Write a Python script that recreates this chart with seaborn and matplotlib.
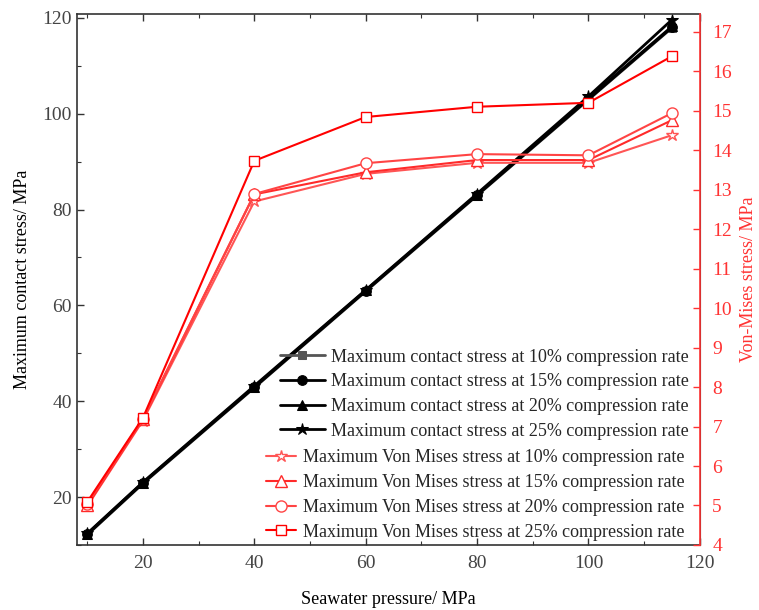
import matplotlib
matplotlib.use("Agg")
import matplotlib.pyplot as plt
import seaborn as sns
import pandas as pd
from matplotlib.ticker import MultipleLocator

pressure = [10, 20, 40, 60, 80, 100, 115]

contact_10 = [12.1, 22.8, 42.8, 62.9, 82.9, 102.9, 117.9]
contact_15 = [12.2, 22.9, 42.9, 63.0, 83.0, 103.0, 118.0]
contact_20 = [12.3, 23.0, 43.0, 63.1, 83.1, 103.2, 118.2]
contact_25 = [12.4, 23.1, 43.2, 63.2, 83.3, 103.6, 119.6]

vm_10 = [4.98, 7.15, 12.70, 13.40, 13.68, 13.68, 14.38]
vm_15 = [5.00, 7.18, 12.88, 13.44, 13.75, 13.75, 14.76]
vm_20 = [5.05, 7.20, 12.89, 13.67, 13.90, 13.87, 14.94]
vm_25 = [5.09, 7.22, 13.73, 14.84, 15.10, 15.20, 16.38]

rates = ["10%", "15%", "20%", "25%"]
contact_series = [contact_10, contact_15, contact_20, contact_25]
vm_series = [vm_10, vm_15, vm_20, vm_25]

sns.set_style("ticks")
plt.rcParams['font.family'] = ['Liberation Serif', 'DejaVu Serif']

fig = plt.figure(figsize=(7.59, 6.10), dpi=100)
ax = fig.add_axes([0.101, 0.1066, 0.821, 0.8705])
ax2 = ax.twinx()

c_colors = ["#555555", "black", "black", "black"]
c_markers = ["s", "o", "^", "*"]
c_sizes = [6, 7, 7, 9]
for r, vals, col, mk, ms in zip(rates, contact_series, c_colors, c_markers, c_sizes):
    df = pd.DataFrame({"p": pressure, "v": vals})
    sns.lineplot(data=df, x="p", y="v", ax=ax, color=col, marker=mk,
                 markersize=ms, markeredgecolor=col, linewidth=2.0,
                 label=f"Maximum contact stress at {r} compression rate", legend=False)

v_colors = ["#ff5555", "#ff2a2a", "#ff4444", "#ff0000"]
v_markers = ["*", "^", "o", "s"]
v_sizes = [9, 8, 8, 7]
for r, vals, col, mk, ms in zip(rates, vm_series, v_colors, v_markers, v_sizes):
    df = pd.DataFrame({"p": pressure, "v": vals})
    sns.lineplot(data=df, x="p", y="v", ax=ax2, color=col, marker=mk,
                 markersize=ms, markerfacecolor="white", markeredgecolor=col,
                 markeredgewidth=1.0, linewidth=1.5,
                 label=f"Maximum Von Mises stress at {r} compression rate", legend=False)

ax.set_xlim(8.1, 120)
ax.set_ylim(10, 120.8)
ax2.set_ylim(4, 17.45)

ax.xaxis.set_major_locator(MultipleLocator(20))
ax.xaxis.set_minor_locator(MultipleLocator(10))
ax.yaxis.set_major_locator(MultipleLocator(20))
ax.yaxis.set_minor_locator(MultipleLocator(10))
ax2.yaxis.set_major_locator(MultipleLocator(1))

tick_gray = "#444444"
ax.tick_params(axis="both", which="major", direction="in", length=5, width=1,
               labelsize=14, labelcolor=tick_gray, top=True, color="#333333")
ax.tick_params(axis="x", which="major", pad=7)
ax.tick_params(axis="both", which="minor", direction="in", length=3, width=0.8,
               top=True, color="#333333")
ax.tick_params(axis="y", right=False, which="both")
red = "#ff3333"
ax2.tick_params(axis="y", which="major", direction="in", length=5, width=1,
                labelsize=14, labelcolor=red, color=red, pad=9)

for s in ["left", "bottom", "top"]:
    ax.spines[s].set_color("#333333")
    ax.spines[s].set_linewidth(1.2)
ax2.spines["right"].set_color(red)
ax2.spines["right"].set_linewidth(1.2)
ax2.spines["left"].set_visible(False)
ax2.spines["top"].set_visible(False)
ax2.spines["bottom"].set_visible(False)

ax.set_xlabel("Seawater pressure/ MPa", fontsize=13, color="black", labelpad=14)
ax.set_ylabel("Maximum contact stress/ MPa", fontsize=13, color="black", labelpad=8)
ax2.set_ylabel("Von-Mises stress/ MPa", fontsize=13, color=red, labelpad=6)

h1, l1 = ax.get_legend_handles_labels()
h2, l2 = ax2.get_legend_handles_labels()
leg1 = ax2.legend(h1, l1, loc="upper right", bbox_to_anchor=(0.983, 0.370),
                  frameon=False, fontsize=13, handlelength=2.5, handletextpad=0.35,
                  labelspacing=0.43, borderaxespad=0, borderpad=0)
ax2.add_artist(leg1)
leg2 = ax2.legend(h2, l2, loc="upper right", bbox_to_anchor=(0.975, 0.180),
                  frameon=False, fontsize=13, handlelength=1.7, handletextpad=0.35,
                  labelspacing=0.43, borderaxespad=0, borderpad=0)

fig.savefig("out.png", dpi=100)
